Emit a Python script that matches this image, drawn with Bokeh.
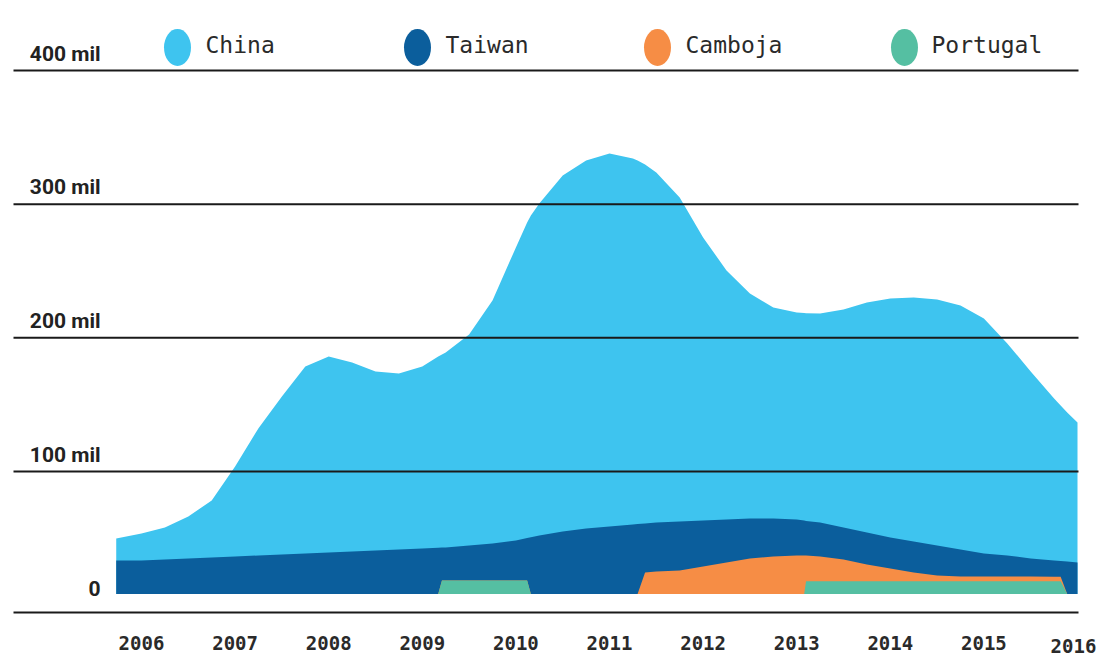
from bokeh.plotting import figure
from bokeh.models import ColumnDataSource, Range1d
from bokeh.embed import file_html
from bokeh.resources import INLINE
from bokeh.core.properties import value

# ---------------- data (thousands, layer thickness per series) ----------------
years = [2005.73, 2006.00, 2006.25, 2006.50, 2006.75, 2007.00, 2007.25, 2007.50, 2007.75,
         2008.00, 2008.25, 2008.50, 2008.75, 2009.00, 2009.17, 2009.21, 2009.25, 2009.50,
         2009.75, 2010.00, 2010.12, 2010.16, 2010.25, 2010.50, 2010.75, 2011.00, 2011.25,
         2011.30, 2011.38, 2011.50, 2011.75, 2012.00, 2012.25, 2012.50, 2012.75, 2013.00,
         2013.08, 2013.10, 2013.25, 2013.50, 2013.75, 2014.00, 2014.25, 2014.50, 2014.75,
         2015.00, 2015.25, 2015.50, 2015.75, 2015.82, 2015.89, 2016.00]

portugal = [0, 0, 0, 0, 0, 0, 0, 0, 0,
            0, 0, 0, 0, 0, 0, 10, 10, 10,
            10, 10, 10, 0, 0, 0, 0, 0, 0,
            0, 0, 0, 0, 0, 0, 0, 0, 0,
            0, 9.5, 9.5, 9.5, 9.5, 9.5, 9.5, 9.5, 9.5,
            9.5, 9.5, 9.5, 9.5, 9.5, 0, 0]

camboja = [0, 0, 0, 0, 0, 0, 0, 0, 0,
           0, 0, 0, 0, 0, 0, 0, 0, 0,
           0, 0, 0, 0, 0, 0, 0, 0, 0,
           0, 16, 16.8, 17.6, 20.6, 23.6, 26.6, 28.0, 28.8,
           28.8, 19.3, 18.5, 16.2, 12.5, 9.5, 6.5, 4.3, 3.6,
           3.6, 3.6, 3.6, 3.4, 3.4, 0, 0]

taiwan = [25.1, 25.1, 25.8, 26.6, 27.3, 28.1, 28.8, 29.6, 30.3,
          31.0, 31.8, 32.5, 33.3, 34.0, 34.6, 24.7, 24.8, 26.3,
          27.8, 30.0, 31.9, 42.4, 43.8, 46.8, 49.0, 50.5, 52.0,
          52.3, 36.7, 36.7, 36.6, 34.4, 32.1, 29.9, 28.5, 26.9,
          26.2, 25.8, 25.5, 24.0, 24.0, 23.3, 23.3, 22.5, 20.2,
          17.2, 15.7, 13.5, 12.2, 11.8, 24.3, 23.6]

china = [16.4, 20.2, 23.9, 31.4, 42.6, 67.3, 95.2, 118.2, 139.9,
         146.7, 141.4, 134.0, 131.7, 136.2, 143.1, 144.5, 145.9, 157.8,
         181.8, 219.2, 236.0, 240.7, 248.3, 266.3, 275.3, 279.0, 273.8,
         272.0, 268.6, 261.8, 242.4, 211.7, 186.3, 168.3, 157.8, 154.9,
         155.2, 155.5, 156.3, 163.1, 172.0, 178.7, 182.5, 184.0, 182.5,
         175.7, 158.6, 139.9, 121.2, 116.3, 111.5, 104.7]

series_names = ["China", "Taiwan", "Camboja", "Portugal"]
series_colors = ["#3EC4EF", "#0B5E9C", "#F68D45", "#55BFA2"]

tick_years = [2006, 2007, 2008, 2009, 2010, 2011, 2012, 2013, 2014, 2015, 2016]
tick_year_labels = ["2006", "2007", "2008", "2009", "2010", "2011",
                    "2012", "2013", "2014", "2015", "2016"]
y_ticks = [0, 100, 200, 300, 400]
y_tick_labels = ["0", "100 mil", "200 mil", "300 mil", "400 mil"]

# ---------------- layout constants ----------------
W, H = 1102, 656
X0_PX, PX_PER_YEAR = 141.0, 93.6
Y0_PX, PX_PER_UNIT = 604.7, 1.3367
AREA_BASE = 8.4          # visual offset of the stack above the 0 level
BOTTOM_RULE = -5.5       # bottom rule drawn slightly under 0


def px2x(px):
    return 2006 + (px - X0_PX) / PX_PER_YEAR


def px2y(py):
    return (Y0_PX - py) / PX_PER_UNIT


p = figure(width=W, height=H,
           x_range=Range1d(px2x(0), px2x(W)),
           y_range=Range1d(px2y(H), px2y(0)),
           output_backend="svg", toolbar_location=None,
           x_axis_location=None, y_axis_location=None,
           min_border=0, outline_line_color=None,
           background_fill_color="white", border_fill_color="white")
p.xgrid.visible = False
p.ygrid.visible = False

# ---------------- stacked areas (painted back to front from the base) ----------------
n = len(years)
base = [AREA_BASE] * n
top_port = [AREA_BASE + v for v in portugal]
top_camb = [a + b for a, b in zip(top_port, camboja)]
top_taiw = [a + b for a, b in zip(top_camb, taiwan)]
top_china = [a + b for a, b in zip(top_taiw, china)]

src = ColumnDataSource(dict(x=years, base=base, port=top_port, camb=top_camb,
                            taiw=top_taiw, china=top_china))
p.varea(x="x", y1="base", y2="china", source=src, fill_color=series_colors[0])
p.varea(x="x", y1="base", y2="taiw", source=src, fill_color=series_colors[1])
p.varea(x="x", y1="base", y2="camb", source=src, fill_color=series_colors[2])
p.varea(x="x", y1="base", y2="port", source=src, fill_color=series_colors[3])

# ---------------- grid lines ----------------
gx0, gx1 = px2x(13), px2x(1078)
grid_vals = [v for v in y_ticks if v > 0]
p.segment(x0=[gx0] * len(grid_vals), x1=[gx1] * len(grid_vals),
          y0=grid_vals, y1=grid_vals, line_color="#1a1a1a", line_width=2)
p.segment(x0=[gx0], x1=[gx1], y0=[BOTTOM_RULE], y1=[BOTTOM_RULE],
          line_color="#1a1a1a", line_width=2)

# ---------------- y labels ----------------
p.text(x=[px2x(100)] * len(y_ticks), y=y_ticks, text=y_tick_labels,
       text_align="right", text_baseline="alphabetic", y_offset=-17,
       text_font=value("Roboto"), text_font_style="bold",
       text_font_size="21px", text_color="#222222")

# ---------------- x labels ----------------
xl_src = ColumnDataSource(dict(
    x=tick_years, y=[px2y(642)] * len(tick_years), text=tick_year_labels,
    dx=[0] * (len(tick_years) - 1) + [-4],
    dy=[0] * (len(tick_years) - 1) + [3]))
p.text(x="x", y="y", text="text", x_offset="dx", y_offset="dy", source=xl_src,
       text_align="center", text_baseline="alphabetic",
       text_font=value("DejaVu Sans Mono"), text_font_style="bold",
       text_font_size="19px", text_color="#2a2a2a")

# ---------------- legend ----------------
dot_px = [177, 417, 657, 904]
txt_px = [205, 445, 685, 931]
p.ellipse(x=[px2x(v) for v in dot_px], y=[px2y(47)] * 4,
          width=27, height=37, width_units="screen", height_units="screen",
          fill_color=series_colors, line_color=None)
p.text(x=[px2x(v) for v in txt_px], y=[px2y(44)] * 4, text=series_names,
       text_align="left", text_baseline="alphabetic",
       text_font=value("DejaVu Sans Mono"), text_font_size="23px",
       text_color="#2a2a2a")

open("out.html", "w").write(file_html(p, INLINE))
